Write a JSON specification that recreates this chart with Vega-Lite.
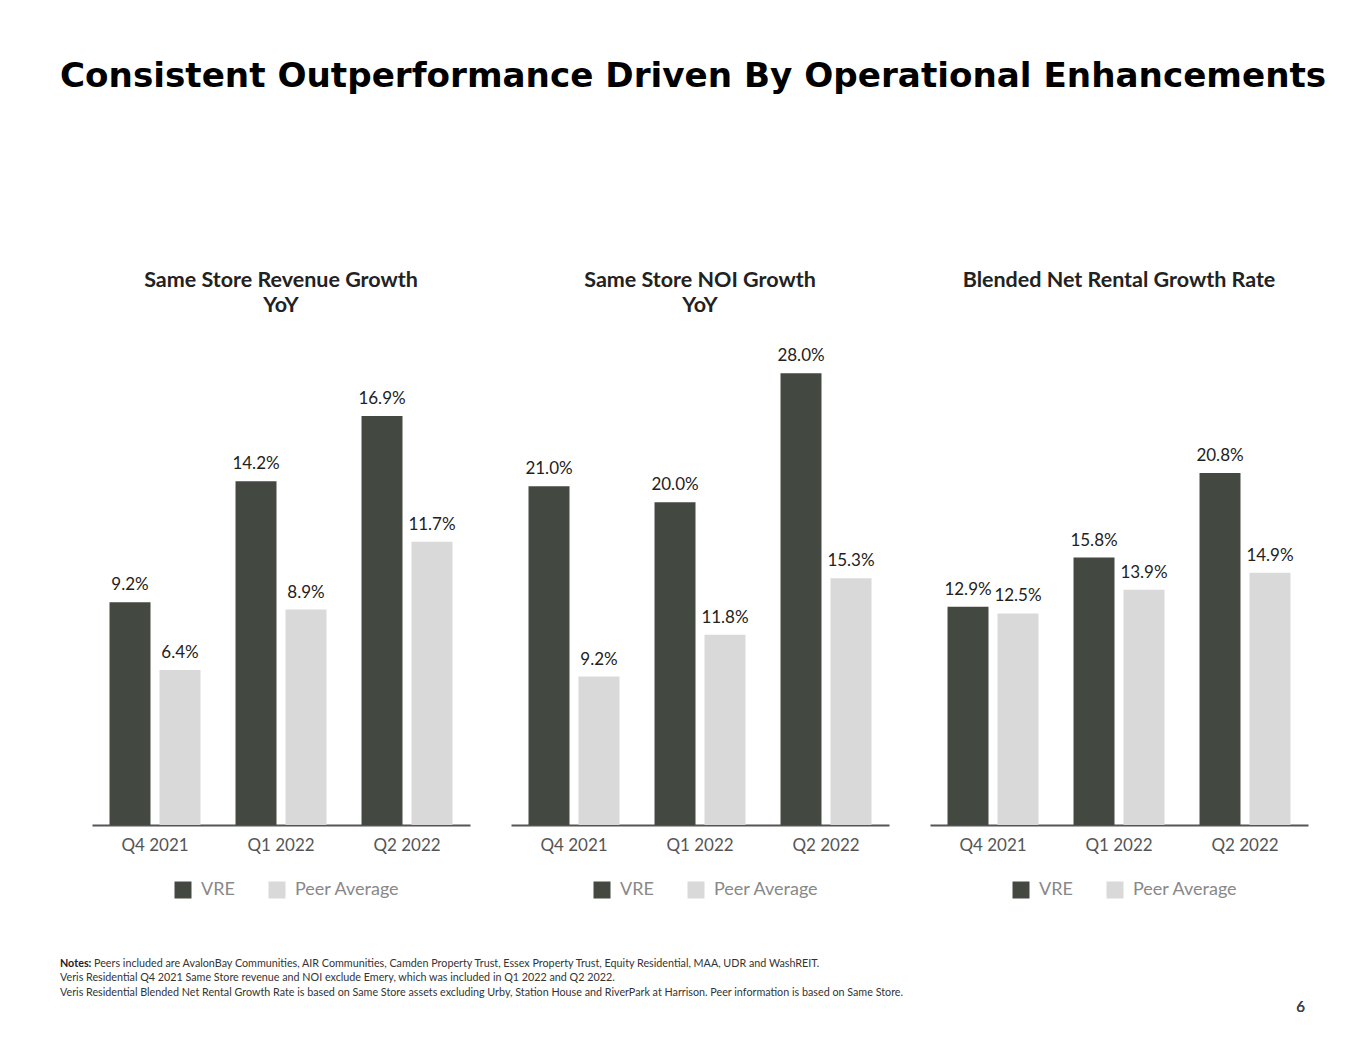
{
  "$schema": "https://vega.github.io/schema/vega-lite/v6.json",
  "padding": {"left": 60, "top": 60, "right": 0, "bottom": 0},
  "background": "white",
  "title": {
    "text": "Consistent Outperformance Driven By Operational Enhancements",
    "font": "DejaVu Sans",
    "fontSize": 34.2,
    "fontWeight": "bold",
    "color": "#000000",
    "anchor": "start",
    "offset": 175
  },
  "datasets": {
    "bars": [
      {"panel": "rev", "quarter": "Q4 2021", "series": "VRE", "value": 0.092},
      {"panel": "rev", "quarter": "Q4 2021", "series": "Peer Average", "value": 0.064},
      {"panel": "rev", "quarter": "Q1 2022", "series": "VRE", "value": 0.142},
      {"panel": "rev", "quarter": "Q1 2022", "series": "Peer Average", "value": 0.089},
      {"panel": "rev", "quarter": "Q2 2022", "series": "VRE", "value": 0.169},
      {"panel": "rev", "quarter": "Q2 2022", "series": "Peer Average", "value": 0.117},
      {"panel": "noi", "quarter": "Q4 2021", "series": "VRE", "value": 0.21},
      {"panel": "noi", "quarter": "Q4 2021", "series": "Peer Average", "value": 0.092},
      {"panel": "noi", "quarter": "Q1 2022", "series": "VRE", "value": 0.20},
      {"panel": "noi", "quarter": "Q1 2022", "series": "Peer Average", "value": 0.118},
      {"panel": "noi", "quarter": "Q2 2022", "series": "VRE", "value": 0.28},
      {"panel": "noi", "quarter": "Q2 2022", "series": "Peer Average", "value": 0.153},
      {"panel": "rent", "quarter": "Q4 2021", "series": "VRE", "value": 0.129},
      {"panel": "rent", "quarter": "Q4 2021", "series": "Peer Average", "value": 0.125},
      {"panel": "rent", "quarter": "Q1 2022", "series": "VRE", "value": 0.158},
      {"panel": "rent", "quarter": "Q1 2022", "series": "Peer Average", "value": 0.139},
      {"panel": "rent", "quarter": "Q2 2022", "series": "VRE", "value": 0.208},
      {"panel": "rent", "quarter": "Q2 2022", "series": "Peer Average", "value": 0.149}
    ],
    "notes": [
      {"line": 1, "text": "Peers included are AvalonBay Communities, AIR Communities, Camden Property Trust, Essex Property Trust, Equity Residential, MAA, UDR and WashREIT."},
      {"line": 2, "text": "Veris Residential Q4 2021 Same Store revenue and NOI exclude Emery, which was included in Q1 2022 and Q2 2022."},
      {"line": 3, "text": "Veris Residential Blended Net Rental Growth Rate is based on Same Store assets excluding Urby, Station House and RiverPark at Harrison. Peer information is based on Same Store."}
    ]
  },
  "config": {
    "view": {"stroke": null},
    "font": "Lato",
    "title": {"font": "Lato", "fontSize": 21.5, "fontWeight": "bold", "color": "#222222", "lineHeight": 25},
    "axisX": {
      "labelFont": "Lato", "labelFontSize": 17, "labelColor": "#555555",
      "domainColor": "#555555", "domainWidth": 2, "ticks": false,
      "labelPadding": 12, "labelAngle": 0, "title": null
    },
    "legend": {
      "orient": "none", "legendX": 82, "legendY": 540, "direction": "horizontal", "title": null,
      "symbolType": "square", "symbolSize": 289, "symbolStrokeWidth": 0,
      "labelFont": "Lato", "labelFontSize": 18, "labelColor": "#888888",
      "columnPadding": 33, "labelOffset": 9
    }
  },
  "spacing": 58,
  "vconcat": [
    {
      "spacing": 41,
      "resolve": {"scale": {"color": "independent"}, "legend": {"color": "independent"}},
      "hconcat": [
        {
          "width": 378, "height": 484,
          "title": {"text": ["Same Store Revenue Growth", "YoY"], "offset": 25},
          "data": {"name": "bars"},
          "transform": [{"filter": "datum.panel === 'rev'"}],
          "encoding": {
            "x": {"field": "quarter", "type": "nominal", "sort": ["Q4 2021", "Q1 2022", "Q2 2022"], "scale": {"paddingInner": 0.278, "paddingOuter": 0.139}},
            "xOffset": {"field": "series", "type": "nominal", "sort": ["VRE", "Peer Average"], "scale": {"paddingInner": 0.18, "paddingOuter": 0}},
            "y": {"field": "value", "type": "quantitative", "scale": {"domain": [0, 0.2]}, "axis": null}
          },
          "layer": [
            {"mark": {"type": "bar"}, "encoding": {"color": {"field": "series", "type": "nominal", "sort": ["VRE", "Peer Average"], "scale": {"domain": ["VRE", "Peer Average"], "range": ["#434840", "#d9d9d9"]}}}},
            {"mark": {"type": "text", "baseline": "bottom", "dy": -8, "font": "Lato", "fontSize": 17, "color": "#222222"}, "encoding": {"text": {"field": "value", "type": "quantitative", "format": ".1%"}}}
          ]
        },
        {
          "width": 378, "height": 484,
          "title": {"text": ["Same Store NOI Growth", "YoY"], "offset": 25},
          "data": {"name": "bars"},
          "transform": [{"filter": "datum.panel === 'noi'"}],
          "encoding": {
            "x": {"field": "quarter", "type": "nominal", "sort": ["Q4 2021", "Q1 2022", "Q2 2022"], "scale": {"paddingInner": 0.278, "paddingOuter": 0.139}},
            "xOffset": {"field": "series", "type": "nominal", "sort": ["VRE", "Peer Average"], "scale": {"paddingInner": 0.18, "paddingOuter": 0}},
            "y": {"field": "value", "type": "quantitative", "scale": {"domain": [0, 0.3]}, "axis": null}
          },
          "layer": [
            {"mark": {"type": "bar"}, "encoding": {"color": {"field": "series", "type": "nominal", "sort": ["VRE", "Peer Average"], "scale": {"domain": ["VRE", "Peer Average"], "range": ["#434840", "#d9d9d9"]}}}},
            {"mark": {"type": "text", "baseline": "bottom", "dy": -8, "font": "Lato", "fontSize": 17, "color": "#222222"}, "encoding": {"text": {"field": "value", "type": "quantitative", "format": ".1%"}}}
          ]
        },
        {
          "width": 378, "height": 484,
          "title": {"text": "Blended Net Rental Growth Rate", "offset": 50},
          "data": {"name": "bars"},
          "transform": [{"filter": "datum.panel === 'rent'"}],
          "encoding": {
            "x": {"field": "quarter", "type": "nominal", "sort": ["Q4 2021", "Q1 2022", "Q2 2022"], "scale": {"paddingInner": 0.278, "paddingOuter": 0.139}},
            "xOffset": {"field": "series", "type": "nominal", "sort": ["VRE", "Peer Average"], "scale": {"paddingInner": 0.18, "paddingOuter": 0}},
            "y": {"field": "value", "type": "quantitative", "scale": {"domain": [0, 0.286]}, "axis": null}
          },
          "layer": [
            {"mark": {"type": "bar"}, "encoding": {"color": {"field": "series", "type": "nominal", "sort": ["VRE", "Peer Average"], "scale": {"domain": ["VRE", "Peer Average"], "range": ["#434840", "#d9d9d9"]}}}},
            {"mark": {"type": "text", "baseline": "bottom", "dy": -8, "font": "Lato", "fontSize": 17, "color": "#222222"}, "encoding": {"text": {"field": "value", "type": "quantitative", "format": ".1%"}}}
          ]
        }
      ]
    },
    {
      "width": 1215, "height": 57,
      "data": {"name": "notes"},
      "encoding": {
        "y": {"field": "line", "type": "ordinal", "scale": {"domain": [1, 2, 3, 4]}, "axis": null}
      },
      "layer": [
        {
          "transform": [{"filter": "datum.line === 1"}],
          "mark": {"type": "text", "align": "left", "baseline": "middle", "font": "Lato", "fontSize": 10.75, "fontWeight": "bold", "color": "#222222", "dx": -32},
          "encoding": {"x": {"value": 0}, "text": {"value": "Notes:"}}
        },
        {
          "transform": [{"filter": "datum.line === 1"}],
          "mark": {"type": "text", "align": "left", "baseline": "middle", "font": "Lato", "fontSize": 10.75, "color": "#333333", "dx": 2},
          "encoding": {"x": {"value": 0}, "text": {"field": "text"}}
        },
        {
          "transform": [{"filter": "datum.line > 1"}],
          "mark": {"type": "text", "align": "left", "baseline": "middle", "font": "Lato", "fontSize": 10.75, "color": "#333333", "dx": -32},
          "encoding": {"x": {"value": 0}, "text": {"field": "text"}}
        },
        {
          "mark": {"type": "text", "align": "right", "baseline": "middle", "font": "Lato", "fontSize": 15, "color": "#444444"},
          "encoding": {"x": {"value": 1213}, "y": {"datum": 4}, "text": {"value": "6"}}
        }
      ]
    }
  ]
}
